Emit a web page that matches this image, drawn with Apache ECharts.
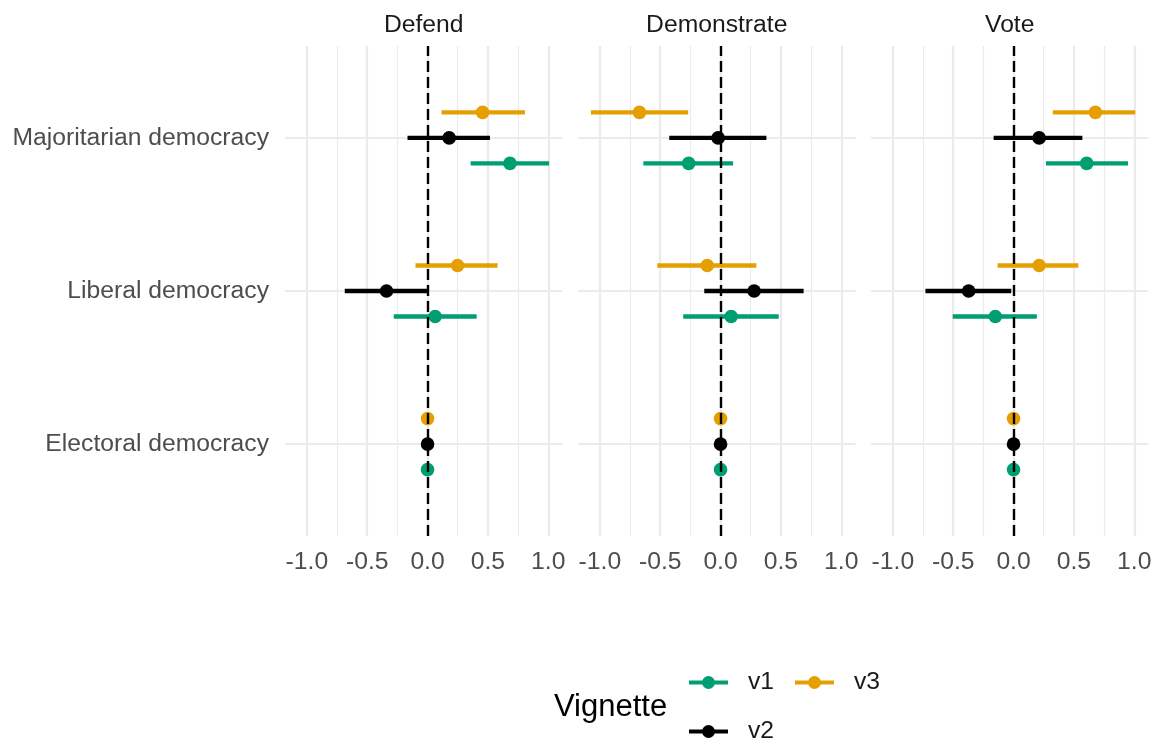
<!DOCTYPE html>
<html>
<head>
<meta charset="utf-8">
<script src="https://cdn.jsdelivr.net/npm/echarts@6/dist/echarts.min.js"></script>
<style>
html,body{margin:0;padding:0;background:#fff;}
#chart{width:1163px;height:747px;}
</style>
</head>
<body>
<div id="chart"></div>
<script>
// ---------- data ----------
const categories = ['Electoral democracy', 'Liberal democracy', 'Majoritarian democracy'];
const facets = ['Defend', 'Demonstrate', 'Vote'];
const vignettes = ['v1', 'v2', 'v3'];
const xTickValues = [-1, -0.5, 0, 0.5, 1];
const xMinorValues = [-0.75, -0.25, 0.25, 0.75];

// each array: [v1, v2, v3], each inner: [Electoral, Liberal, Majoritarian]
const defendEst  = [[0, 0.063, 0.683], [0, -0.340, 0.179], [0, 0.249, 0.456]];
const defendLow  = [[0, -0.280, 0.357], [0, -0.686, -0.166], [0, -0.100, 0.116]];
const defendHigh = [[0, 0.407, 1.007], [0, -0.003, 0.517], [0, 0.580, 0.807]];

const demoEst  = [[0, 0.088, -0.264], [0, 0.278, -0.020], [0, -0.110, -0.672]];
const demoLow  = [[0, -0.309, -0.640], [0, -0.135, -0.425], [0, -0.524, -1.074]];
const demoHigh = [[0, 0.482, 0.104], [0, 0.688, 0.380], [0, 0.297, -0.268]];

const voteEst  = [[0, -0.151, 0.606], [0, -0.372, 0.212], [0, 0.212, 0.678]];
const voteLow  = [[0, -0.504, 0.268], [0, -0.730, -0.165], [0, -0.132, 0.325]];
const voteHigh = [[0, 0.193, 0.948], [0, -0.019, 0.570], [0, 0.537, 1.008]];

const facetData = [
  [defendEst, defendLow, defendHigh],
  [demoEst, demoLow, demoHigh],
  [voteEst, voteLow, voteHigh]
];

// ---------- style ----------
const FONT = "'Liberation Sans', Arial, sans-serif";
const FS = 24.7;
const colors = {v1: '#009E73', v2: '#000000', v3: '#E69F00'};
const dodge = {v1: -1 / 6, v2: 0, v3: 1 / 6};
const gridLefts = [285, 578, 871];
const gridW = 277.5, gridTop = 46, gridH = 490;
const xMin = -1.181, xMax = 1.118;
const GRID_COLOR = '#EBEBEB';

const chart = echarts.init(document.getElementById('chart'), null, {renderer: 'canvas'});

const grids = [], xAxes = [], yAxes = [], series = [], graphics = [];

function renderItem(params, api) {
  const lo = api.value(0), hi = api.value(1), est = api.value(2), y = api.value(3);
  const p1 = api.coord([lo, y]);
  const p2 = api.coord([hi, y]);
  const pc = api.coord([est, y]);
  const color = api.visual('color');
  return {
    type: 'group',
    children: [
      {type: 'line', shape: {x1: p1[0], y1: p1[1], x2: p2[0], y2: p2[1]},
       style: {stroke: color, lineWidth: 4.3, lineCap: 'butt'}},
      {type: 'circle', shape: {cx: pc[0], cy: pc[1], r: 6.8}, style: {fill: color}}
    ]
  };
}

facets.forEach((f, i) => {
  grids.push({left: gridLefts[i], top: gridTop, width: gridW, height: gridH, containLabel: false});
  // main x axis (major grid + labels)
  xAxes.push({
    type: 'value', gridIndex: i, min: xMin, max: xMax, position: 'bottom',
    axisLine: {show: false},
    axisTick: {show: false, customValues: xTickValues},
    axisLabel: {show: true, customValues: xTickValues, margin: 13.5,
      formatter: v => v.toFixed(1), fontSize: FS, color: '#4D4D4D', fontFamily: FONT},
    splitLine: {show: true, lineStyle: {color: GRID_COLOR, width: 2.2}}
  });
  // minor grid x axis
  xAxes.push({
    type: 'value', gridIndex: i, min: xMin, max: xMax, position: 'bottom',
    axisLine: {show: false},
    axisTick: {show: false, customValues: xMinorValues},
    axisLabel: {show: false, customValues: xMinorValues},
    splitLine: {show: true, lineStyle: {color: GRID_COLOR, width: 1.2}}
  });
  yAxes.push({
    type: 'value', gridIndex: i, min: 0.4, max: 3.6,
    axisLine: {show: false},
    axisTick: {show: false, customValues: [1, 2, 3]},
    axisLabel: {show: i === 0, customValues: [1, 2, 3], margin: 16,
      formatter: v => categories[Math.round(v) - 1], fontSize: FS, color: '#4D4D4D', fontFamily: FONT},
    splitLine: {show: true, lineStyle: {color: GRID_COLOR, width: 2.2}}
  });

  const [estA, lowA, highA] = facetData[i];
  vignettes.forEach((v, k) => {
    const data = categories.map((c, ci) => [lowA[k][ci], highA[k][ci], estA[k][ci], ci + 1 + dodge[v]]);
    series.push({
      type: 'custom', name: v, xAxisIndex: 2 * i, yAxisIndex: i,
      itemStyle: {color: colors[v]},
      renderItem: renderItem,
      encode: {x: [0, 1, 2], y: 3},
      data: data, z: 2
    });
  });

  // dashed reference line at 0
  series.push({
    type: 'line', name: 'zero' + i, xAxisIndex: 2 * i, yAxisIndex: i, data: [], z: 10,
    markLine: {
      silent: true, symbol: ['none', 'none'], label: {show: false}, z: 10,
      lineStyle: {color: '#000', type: [11, 5], width: 2.4},
      data: [{xAxis: 0}]
    }
  });

  graphics.push({
    type: 'text', x: gridLefts[i] + gridW / 2, y: 25,
    style: {text: f, align: 'center', verticalAlign: 'middle', fontSize: FS, fontFamily: FONT, fill: '#1A1A1A'}
  });
});

graphics.push({
  type: 'text', x: 554, y: 707,
  style: {text: 'Vignette', align: 'left', verticalAlign: 'middle', fontSize: 31, fontFamily: FONT, fill: '#000'}
});

const legendIcon = 'path://M0,5 L39,5 L39,9 L0,9 Z M13,7 A6.5,6.5 0 1,1 26,7 A6.5,6.5 0 1,1 13,7 Z';
const legendCommon = {
  orient: 'vertical', itemWidth: 39, itemHeight: 13, itemGap: 24, padding: 0,
  selectedMode: false,
  textStyle: {fontSize: FS, color: '#1A1A1A', fontFamily: FONT, padding: [0, 0, 0, 15]}
};

chart.setOption({
  animation: false,
  backgroundColor: '#ffffff',
  textStyle: {fontFamily: FONT},
  grid: grids,
  xAxis: xAxes,
  yAxis: yAxes,
  legend: [
    Object.assign({}, legendCommon, {left: 689, top: 670,
      data: [{name: 'v1', icon: legendIcon}, {name: 'v2', icon: legendIcon}]}),
    Object.assign({}, legendCommon, {left: 795, top: 670,
      data: [{name: 'v3', icon: legendIcon}]})
  ],
  graphic: graphics,
  series: series
});
</script>
</body>
</html>
